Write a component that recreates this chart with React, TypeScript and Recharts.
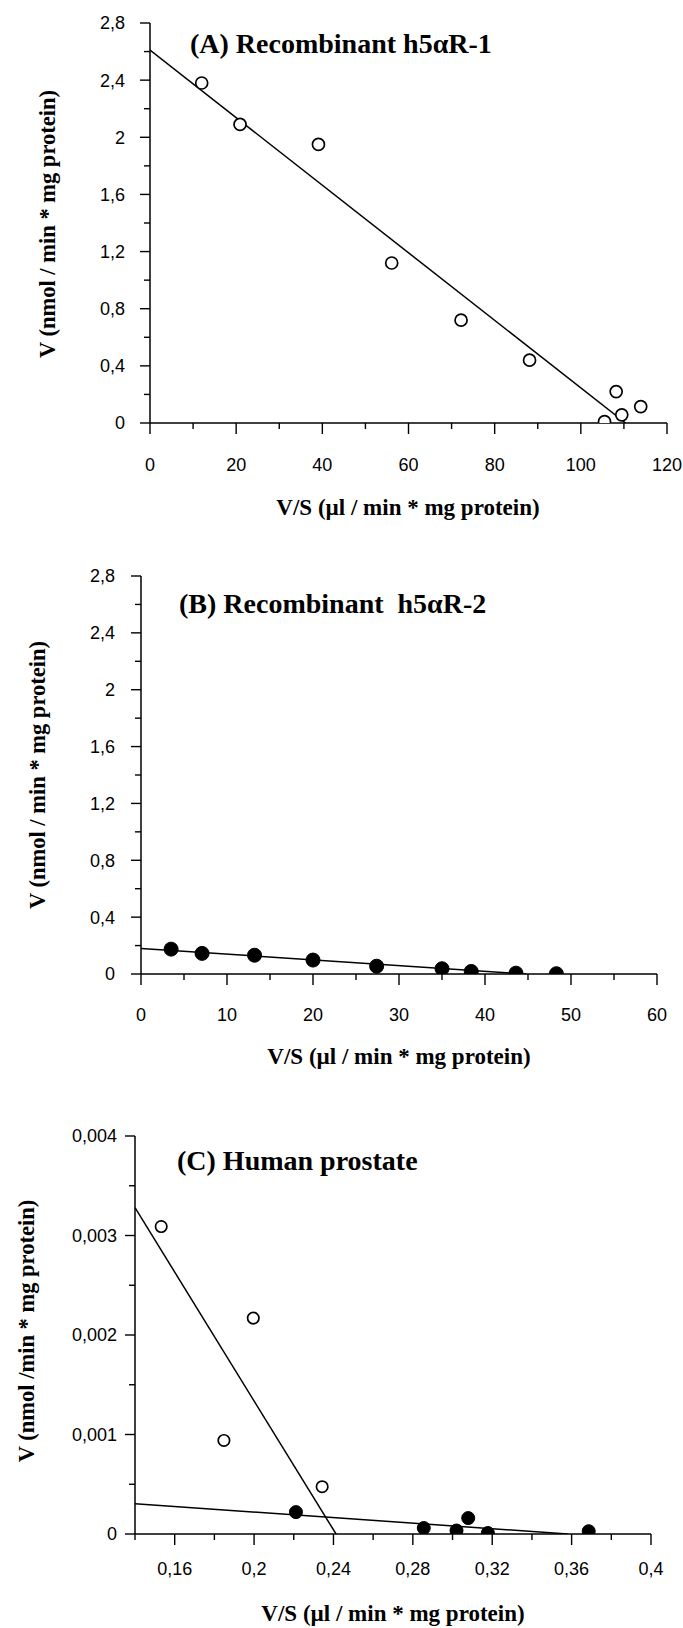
import React from "react";
import { ScatterChart, Scatter, XAxis, YAxis } from "recharts";

// (A) recombinant h5aR-1, open circles
const vsA = [12.0, 20.9, 39.1, 56.1, 72.2, 88.1, 108.2, 113.9, 109.5, 105.5];
const vA = [2.38, 2.09, 1.95, 1.12, 0.72, 0.44, 0.22, 0.115, 0.057, 0.01];
const fitVsA = [0, 110.4];
const fitVA = [2.61, 0];

// (B) recombinant h5aR-2, filled circles
const vsB = [3.5, 7.1, 13.2, 20.0, 27.4, 35.0, 38.4, 43.6, 48.3];
const vB = [0.175, 0.145, 0.132, 0.098, 0.055, 0.037, 0.018, 0.006, 0.002];
const fitVsB = [0, 44.8];
const fitVB = [0.18, 0];

// (C) human prostate, two components
const vsCOpen = [0.1532, 0.1848, 0.1996, 0.2343];
const vCOpen = [0.00309, 0.00094, 0.00217, 0.000475];
const vsCFilled = [0.2211, 0.2855, 0.302, 0.3079, 0.3178, 0.3686];
const vCFilled = [0.00022, 0.00006, 0.000035, 0.00016, 0.00001, 0.000028];
const fitVsC1 = [0.14, 0.2413];
const fitVC1 = [0.00328, 0];
const fitVsC2 = [0.14, 0.358];
const fitVC2 = [0.000305, 0];

// ticks
const yMajorAB = [0, 0.4, 0.8, 1.2, 1.6, 2, 2.4, 2.8];
const yLabelsAB = ["0", "0,4", "0,8", "1,2", "1,6", "2", "2,4", "2,8"];
const yMinorAB = [0.2, 0.6, 1.0, 1.4, 1.8, 2.2, 2.6];
const xMajorA = [0, 20, 40, 60, 80, 100, 120];
const xLabelsA = ["0", "20", "40", "60", "80", "100", "120"];
const xMinorA = [10, 30, 50, 70, 90, 110];
const xMajorB = [0, 10, 20, 30, 40, 50, 60];
const xLabelsB = ["0", "10", "20", "30", "40", "50", "60"];
const xMinorB = [5, 15, 25, 35, 45, 55];
const yMajorC = [0, 0.001, 0.002, 0.003, 0.004];
const yLabelsC = ["0", "0,001", "0,002", "0,003", "0,004"];
const yMinorC = [0.0005, 0.0015, 0.0025, 0.0035];
const xMajorC = [0.16, 0.2, 0.24, 0.28, 0.32, 0.36, 0.4];
const xLabelsC = ["0,16", "0,2", "0,24", "0,28", "0,32", "0,36", "0,4"];
const xMinorC = [0.14, 0.18, 0.22, 0.26, 0.3, 0.34, 0.38];

const SERIF = "'Liberation Serif', 'Times New Roman', serif";
const SANS = "'Liberation Sans', Arial, sans-serif";
const X_TITLE = "V/S (\u00b5l / min * mg protein)";

const pts = (xs: number[], ys: number[]) => xs.map((x, i) => ({ x, y: ys[i] }));
const sortNum = (a: number[]) => [...a].sort((p, q) => p - q);
const findIdx = (arr: number[], v: number) =>
  arr.findIndex((m) => Math.abs(m - v) < 1e-9);

const OpenDot = (r: number) => (p: any) => (
  <circle cx={p.cx} cy={p.cy} r={r} fill="#fff" stroke="#000" strokeWidth={1.7} />
);
const FilledDot = (r: number) => (p: any) => (
  <circle cx={p.cx} cy={p.cy} r={r} fill="#000" stroke="#000" strokeWidth={1} />
);
const NoDot = () => <g />;

function makeXTick(majors: number[], labels: string[], labelDy: number) {
  return (p: any) => {
    const i = findIdx(majors, p.payload.value);
    return (
      <g>
        <line x1={p.x} x2={p.x} y1={p.y} y2={p.y + (i >= 0 ? 11 : 6)} stroke="#000" strokeWidth={1.4} />
        {i >= 0 && (
          <text x={p.x} y={p.y + labelDy} textAnchor="middle" fontFamily={SANS} fontSize={18} fill="#000">
            {labels[i]}
          </text>
        )}
      </g>
    );
  };
}

function makeYTick(majors: number[], labels: string[], gap: number) {
  return (p: any) => {
    const i = findIdx(majors, p.payload.value);
    return (
      <g>
        <line x1={p.x} x2={p.x - (i >= 0 ? 10 : 6)} y1={p.y} y2={p.y} stroke="#000" strokeWidth={1.4} />
        {i >= 0 && (
          <text x={p.x - gap} y={p.y + 6.4} textAnchor="end" fontFamily={SANS} fontSize={18} fill="#000">
            {labels[i]}
          </text>
        )}
      </g>
    );
  };
}

interface PanelProps {
  top: number;
  height: number;
  margin: { top: number; right: number; bottom: number; left: number };
  yWidth: number;
  xHeight: number;
  xDomain: [number, number];
  yDomain: [number, number];
  xMajor: number[];
  xMinor: number[];
  xLabels: string[];
  yMajor: number[];
  yMinor: number[];
  yLabels: string[];
  xLabelDy: number;
  yGap: number;
  title: string;
  titleX: number;
  titleY: number;
  yTitle: string;
  yTitleX: number;
  yTitleY: number;
  xTitleX: number;
  xTitleY: number;
  children: React.ReactNode;
}

function Panel(p: PanelProps) {
  return (
    <div style={{ position: "absolute", left: 0, top: p.top, width: 683, height: p.height }}>
      <ScatterChart width={683} height={p.height} margin={p.margin}>
        <XAxis
          type="number"
          dataKey="x"
          domain={p.xDomain}
          ticks={sortNum([...p.xMajor, ...p.xMinor])}
          interval={0}
          tickSize={0}
          tickMargin={0}
          tickLine={false}
          height={p.xHeight}
          axisLine={{ stroke: "#000", strokeWidth: 1.5 }}
          tick={makeXTick(p.xMajor, p.xLabels, p.xLabelDy)}
          allowDataOverflow
        />
        <YAxis
          type="number"
          dataKey="y"
          domain={p.yDomain}
          ticks={sortNum([...p.yMajor, ...p.yMinor])}
          interval={0}
          tickSize={0}
          tickMargin={0}
          tickLine={false}
          width={p.yWidth}
          axisLine={{ stroke: "#000", strokeWidth: 1.5 }}
          tick={makeYTick(p.yMajor, p.yLabels, p.yGap)}
          allowDataOverflow
        />
        {p.children}
      </ScatterChart>
      <svg
        width={683}
        height={p.height}
        style={{ position: "absolute", left: 0, top: 0, pointerEvents: "none" }}
      >
        <text x={p.titleX} y={p.titleY} fontFamily={SERIF} fontWeight="bold" fontSize={28} fill="#000" style={{ whiteSpace: "pre" }}>
          {p.title}
        </text>
        <text x={p.xTitleX} y={p.xTitleY} textAnchor="middle" fontFamily={SERIF} fontWeight="bold" fontSize={23} fill="#000">
          {X_TITLE}
        </text>
        <text
          x={p.yTitleX}
          y={p.yTitleY}
          transform={`rotate(-90 ${p.yTitleX} ${p.yTitleY})`}
          textAnchor="middle"
          dominantBaseline="central"
          fontFamily={SERIF}
          fontWeight="bold"
          fontSize={22.5}
          fill="#000"
        >
          {p.yTitle}
        </text>
      </svg>
    </div>
  );
}

const lineStyle = { stroke: "#000", strokeWidth: 1.5 };

export default function App() {
  return (
    <div style={{ position: "absolute", left: 0, top: 0, width: 683, height: 1628, background: "#fff" }}>
      <Panel
        top={0}
        height={540}
        margin={{ top: 23, right: 16, bottom: 0, left: 0 }}
        yWidth={150}
        xHeight={117}
        xDomain={[0, 120]}
        yDomain={[0, 2.8]}
        xMajor={xMajorA}
        xMinor={xMinorA}
        xLabels={xLabelsA}
        yMajor={yMajorAB}
        yMinor={yMinorAB}
        yLabels={yLabelsAB}
        xLabelDy={48}
        yGap={25}
        title="(A) Recombinant h5αR-1"
        titleX={190}
        titleY={53}
        yTitle="V (nmol / min * mg protein)"
        yTitleX={47}
        yTitleY={224}
        xTitleX={408}
        xTitleY={515}
      >
        <Scatter data={pts(fitVsA, fitVA)} line={lineStyle} shape={NoDot} isAnimationActive={false} />
        <Scatter data={pts(vsA, vA)} shape={OpenDot(6)} isAnimationActive={false} />
      </Panel>
      <Panel
        top={540}
        height={540}
        margin={{ top: 36, right: 26, bottom: 0, left: 0 }}
        yWidth={141}
        xHeight={106}
        xDomain={[0, 60]}
        yDomain={[0, 2.8]}
        xMajor={xMajorB}
        xMinor={xMinorB}
        xLabels={xLabelsB}
        yMajor={yMajorAB}
        yMinor={yMinorAB}
        yLabels={yLabelsAB}
        xLabelDy={47}
        yGap={26}
        title="(B) Recombinant  h5αR-2"
        titleX={179}
        titleY={73}
        yTitle="V (nmol / min * mg protein)"
        yTitleX={37}
        yTitleY={235}
        xTitleX={399}
        xTitleY={524}
      >
        <Scatter data={pts(fitVsB, fitVB)} line={lineStyle} shape={NoDot} isAnimationActive={false} />
        <Scatter data={pts(vsB, vB)} shape={FilledDot(7)} isAnimationActive={false} />
      </Panel>
      <Panel
        top={1080}
        height={548}
        margin={{ top: 56, right: 32, bottom: 0, left: 0 }}
        yWidth={135}
        xHeight={94}
        xDomain={[0.14, 0.4]}
        yDomain={[0, 0.004]}
        xMajor={xMajorC}
        xMinor={xMinorC}
        xLabels={xLabelsC}
        yMajor={yMajorC}
        yMinor={yMinorC}
        yLabels={yLabelsC}
        xLabelDy={41}
        yGap={18}
        title="(C) Human prostate"
        titleX={177}
        titleY={90}
        yTitle="V (nmol /min * mg protein)"
        yTitleX={26}
        yTitleY={251}
        xTitleX={393}
        xTitleY={541}
      >
        <Scatter data={pts(fitVsC1, fitVC1)} line={lineStyle} shape={NoDot} isAnimationActive={false} />
        <Scatter data={pts(fitVsC2, fitVC2)} line={lineStyle} shape={NoDot} isAnimationActive={false} />
        <Scatter data={pts(vsCOpen, vCOpen)} shape={OpenDot(5.7)} isAnimationActive={false} />
        <Scatter data={pts(vsCFilled, vCFilled)} shape={FilledDot(6.5)} isAnimationActive={false} />
      </Panel>
    </div>
  );
}
